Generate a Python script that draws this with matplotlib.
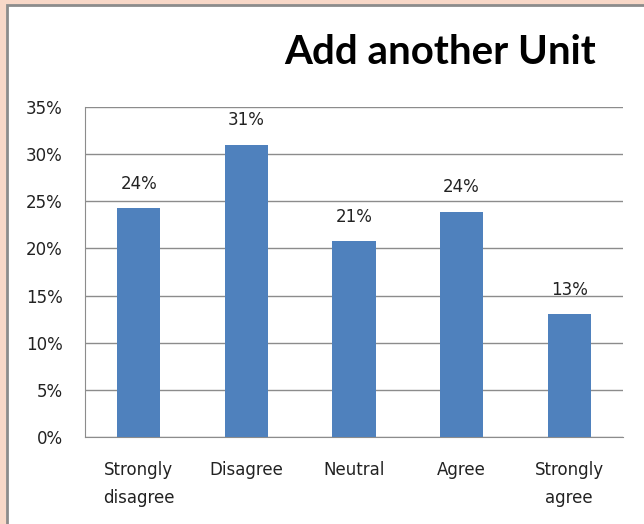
import matplotlib
matplotlib.use("Agg")
import matplotlib.pyplot as plt
from matplotlib.patches import Rectangle
from matplotlib.ticker import PercentFormatter

categories = ["Strongly\ndisagree", "Disagree", "Neutral", "Agree", "Strongly\nagree"]
values = [0.243, 0.310, 0.208, 0.239, 0.130]
labels = ["24%", "31%", "21%", "24%", "13%"]

plt.rcParams['font.family'] = ['DejaVu Sans']

fig = plt.figure(figsize=(6.44, 5.24), dpi=100)
fig.patch.set_facecolor('#f8d8c8')
# white chart area with grey frame (runs off the right and bottom edges)
fig.patches.append(Rectangle((7/644, -0.05), 1.1, 1.05 - 5/524, transform=fig.transFigure,
                             facecolor='white', edgecolor='#8c8c8c', linewidth=2, zorder=-10))

ax = fig.add_axes([85/644, 1 - 437/524, 538/644, 330/524])
ax.set_facecolor('none')

x = range(len(categories))
bars = ax.bar(x, values, width=0.40, color='#4f81bd', zorder=3)
for xi, v, lab in zip(x, values, labels):
    ax.annotate(lab, (xi, v), xytext=(0, 11), textcoords='offset points',
                ha='center', va='bottom', fontsize=12, color='#222222')

ax.set_ylim(0, 0.35)
ax.set_xlim(-0.5, len(categories) - 0.5)
ax.set_yticks([i * 0.05 for i in range(8)])
ax.yaxis.set_major_formatter(PercentFormatter(1.0, decimals=0))
ax.grid(axis='y', color='#8c8c8c', linewidth=1, zorder=0)
ax.set_xticks(list(x))
ax.set_xticklabels(categories, fontsize=12, linespacing=1.75, color='#222222')
ax.tick_params(axis='y', labelsize=12, length=0, pad=16, labelcolor='#222222')
ax.tick_params(axis='x', length=0, pad=17)
for s in ['top', 'right']:
    ax.spines[s].set_visible(False)
ax.spines['left'].set_color('#8c8c8c')
ax.spines['bottom'].set_color('#8c8c8c')

fig.text(440/644, 1 - 52/524, "Add another Unit", ha='center', va='center',
         fontsize=29, fontweight='bold', family=['Lato', 'DejaVu Sans'])

fig.savefig("out.png", dpi=100, facecolor=fig.get_facecolor())
